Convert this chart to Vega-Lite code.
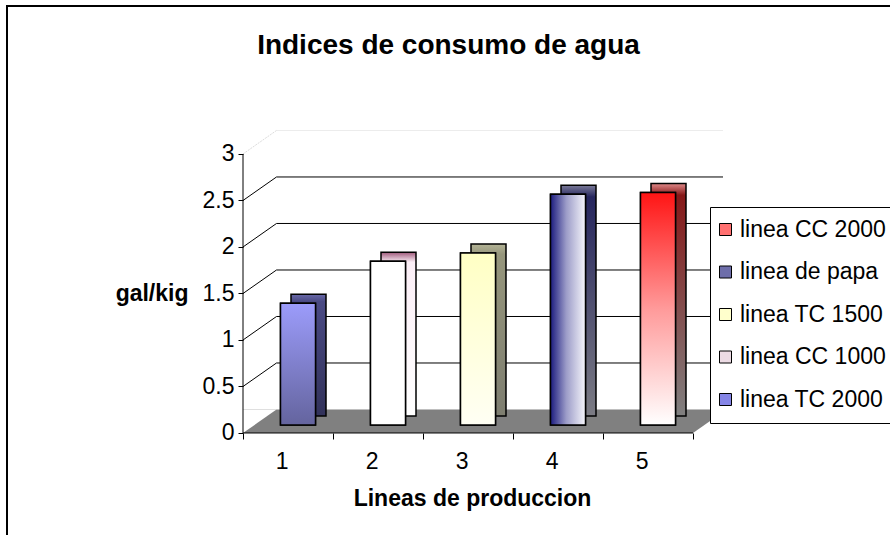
{
  "$schema": "https://vega.github.io/schema/vega-lite/v6.json",
  "autosize": {"type": "none"},
  "width": 887,
  "height": 532,
  "padding": {"left": 7, "top": 6, "right": -4, "bottom": -3},
  "background": "white",
  "config": {"font": "Liberation Sans", "view": {"stroke": "black", "strokeWidth": 2}},
  "title": {"text": "Indices de consumo de agua", "fontSize": 28, "fontWeight": "bold", "color": "black", "anchor": "middle", "frame": "group", "offset": -54, "dx": -2},
  "datasets": {
    "bars": [
      {"linea": "1", "serie": "linea TC 2000", "valor": 1.31},
      {"linea": "2", "serie": "linea CC 1000", "valor": 1.76},
      {"linea": "3", "serie": "linea TC 1500", "valor": 1.85},
      {"linea": "4", "serie": "linea de papa", "valor": 2.48},
      {"linea": "5", "serie": "linea CC 2000", "valor": 2.5}
    ],
    "grid": [{"v": 0.5}, {"v": 1}, {"v": 1.5}, {"v": 2}, {"v": 2.5}],
    "top": [{"v": 3}]
  },
  "layer": [
    {
      "data": {"name": "top"},
      "mark": {"type": "rule", "color": "#ececec", "strokeWidth": 1, "xOffset": 33.5, "x2Offset": 75, "yOffset": -23.5, "y2Offset": -23.5},
      "encoding": {
        "x": {"datum": "1", "type": "nominal", "bandPosition": 0, "scale": {"type": "band", "domain": ["1","2","3","4","5"], "paddingInner": 0, "paddingOuter": 0, "range": [236, 686]}},
        "x2": {"datum": "5"},
        "y": {"field": "v", "type": "quantitative", "scale": {"domain": [-1.129, 4.591], "nice": false, "zero": false}},
        "y2": {"field": "v"}
      }
    },
    {
      "data": {"name": "top"},
      "mark": {"type": "rule", "color": "#dcdcdc", "strokeWidth": 1, "strokeDash": [2, 1], "x2Offset": -11.5, "y2Offset": -23.5},
      "encoding": {
        "x": {"datum": "1", "type": "nominal", "bandPosition": 0, "scale": {"type": "band", "domain": ["1","2","3","4","5"], "paddingInner": 0, "paddingOuter": 0, "range": [236, 686]}},
        "x2": {"datum": "1"},
        "y": {"field": "v", "type": "quantitative", "scale": {"domain": [-1.129, 4.591], "nice": false, "zero": false}},
        "y2": {"field": "v"}
      }
    },
    {
      "data": {"name": "grid"},
      "mark": {"type": "rule", "color": "black", "strokeWidth": 1, "xOffset": 33.5, "x2Offset": 75, "yOffset": -23.5, "y2Offset": -23.5},
      "encoding": {
        "x": {"datum": "1", "type": "nominal", "bandPosition": 0, "scale": {"type": "band", "domain": ["1","2","3","4","5"], "paddingInner": 0, "paddingOuter": 0, "range": [236, 686]}},
        "x2": {"datum": "5"},
        "y": {"field": "v", "type": "quantitative", "scale": {"domain": [-1.129, 4.591], "nice": false, "zero": false}},
        "y2": {"field": "v"}
      }
    },
    {
      "data": {"name": "grid"},
      "mark": {"type": "rule", "color": "black", "strokeWidth": 1, "x2Offset": -11.5, "y2Offset": -23.5},
      "encoding": {
        "x": {"datum": "1", "type": "nominal", "bandPosition": 0, "scale": {"type": "band", "domain": ["1","2","3","4","5"], "paddingInner": 0, "paddingOuter": 0, "range": [236, 686]}},
        "x2": {"datum": "1"},
        "y": {"field": "v", "type": "quantitative", "scale": {"domain": [-1.129, 4.591], "nice": false, "zero": false}},
        "y2": {"field": "v"}
      }
    },
    {
      "data": {"name": "bars"},
      "mark": {"type": "bar", "fill": "#808080", "strokeWidth": 0, "width": {"band": 1}, "y2Offset": -23.5},
      "encoding": {
        "x": {"field": "linea", "type": "nominal", "scale": {"type": "band", "domain": ["1","2","3","4","5"], "paddingInner": 0, "paddingOuter": 0, "range": [236, 686]}},
        "y": {"datum": 0, "type": "quantitative", "scale": {"domain": [-1.129, 4.591], "nice": false, "zero": false}},
        "y2": {"datum": 0}
      }
    },
    {
      "data": {"values": [{}]},
      "mark": {"type": "point", "filled": true, "fill": "white", "opacity": 1, "strokeWidth": 0, "size": 1122.25, "shape": "M-1,-0.7015L1,-0.7015L-1,0.7015Z", "xOffset": 16.75, "yOffset": -11.75},
      "encoding": {
        "x": {"datum": "1", "type": "nominal", "bandPosition": 0, "scale": {"type": "band", "domain": ["1","2","3","4","5"], "paddingInner": 0, "paddingOuter": 0, "range": [236, 686]}},
        "y": {"datum": 0, "type": "quantitative", "scale": {"domain": [-1.129, 4.591], "nice": false, "zero": false}}
      }
    },
    {
      "data": {"values": [{}]},
      "mark": {"type": "point", "filled": true, "fill": "#808080", "opacity": 1, "strokeWidth": 0, "size": 1122.25, "shape": "M-1,-0.7015L1,-0.7015L-1,0.7015Z", "xOffset": 16.75, "yOffset": -11.75},
      "encoding": {
        "x": {"datum": "5", "type": "nominal", "bandPosition": 1, "scale": {"type": "band", "domain": ["1","2","3","4","5"], "paddingInner": 0, "paddingOuter": 0, "range": [236, 686]}},
        "y": {"datum": 0, "type": "quantitative", "scale": {"domain": [-1.129, 4.591], "nice": false, "zero": false}}
      }
    },
    {
      "data": {"values": [{}]},
      "mark": {"type": "rule", "color": "black", "strokeWidth": 1},
      "encoding": {
        "x": {"datum": "1", "type": "nominal", "bandPosition": 0, "scale": {"type": "band", "domain": ["1","2","3","4","5"], "paddingInner": 0, "paddingOuter": 0, "range": [236, 686]}},
        "y": {"datum": 0, "type": "quantitative", "scale": {"domain": [-1.129, 4.591], "nice": false, "zero": false}},
        "y2": {"datum": 3}
      }
    },
    {
      "data": {"values": [{}]},
      "mark": {"type": "rule", "color": "black", "strokeWidth": 1, "x2Offset": 45},
      "encoding": {
        "x": {"datum": "1", "type": "nominal", "bandPosition": 0, "scale": {"type": "band", "domain": ["1","2","3","4","5"], "paddingInner": 0, "paddingOuter": 0, "range": [236, 686]}},
        "x2": {"datum": "5"},
        "y": {"datum": 0, "type": "quantitative", "scale": {"domain": [-1.129, 4.591], "nice": false, "zero": false}}
      }
    },
    {
      "data": {"name": "bars"},
      "transform": [{"filter": "datum.linea == '1'"}],
      "mark": {"type": "bar", "width": 35, "xOffset": 20.5, "yOffset": -17, "y2Offset": -17, "stroke": "black", "strokeWidth": 1.5,
        "fill": {"gradient": "linear", "x1": 0, "y1": 0, "x2": 0, "y2": 1, "stops": [{"offset": 0, "color": "#6a6aaa"}, {"offset": 0.06, "color": "#4a4a84"}, {"offset": 1, "color": "#32325a"}]}},
      "encoding": {
        "x": {"field": "linea", "type": "nominal", "scale": {"type": "band", "domain": ["1","2","3","4","5"], "paddingInner": 0, "paddingOuter": 0, "range": [236, 686]}},
        "y": {"field": "valor", "type": "quantitative", "scale": {"domain": [-1.129, 4.591], "nice": false, "zero": false}},
        "y2": {"datum": 0}
      }
    },
    {
      "data": {"name": "bars"},
      "transform": [{"filter": "datum.linea == '2'"}],
      "mark": {"type": "bar", "width": 35, "xOffset": 20.5, "yOffset": -17, "y2Offset": -17, "stroke": "black", "strokeWidth": 1.5,
        "fill": {"gradient": "linear", "x1": 0, "y1": 0, "x2": 0, "y2": 1, "stops": [{"offset": 0, "color": "#a05a7c"}, {"offset": 0.06, "color": "#fbeef6"}, {"offset": 1, "color": "#ffffff"}]}},
      "encoding": {
        "x": {"field": "linea", "type": "nominal", "scale": {"type": "band", "domain": ["1","2","3","4","5"], "paddingInner": 0, "paddingOuter": 0, "range": [236, 686]}},
        "y": {"field": "valor", "type": "quantitative", "scale": {"domain": [-1.129, 4.591], "nice": false, "zero": false}},
        "y2": {"datum": 0}
      }
    },
    {
      "data": {"name": "bars"},
      "transform": [{"filter": "datum.linea == '3'"}],
      "mark": {"type": "bar", "width": 35, "xOffset": 20.5, "yOffset": -17, "y2Offset": -17, "stroke": "black", "strokeWidth": 1.5,
        "fill": {"gradient": "linear", "x1": 0, "y1": 0, "x2": 0, "y2": 1, "stops": [{"offset": 0, "color": "#b4b496"}, {"offset": 0.06, "color": "#96967c"}, {"offset": 1, "color": "#7e7e70"}]}},
      "encoding": {
        "x": {"field": "linea", "type": "nominal", "scale": {"type": "band", "domain": ["1","2","3","4","5"], "paddingInner": 0, "paddingOuter": 0, "range": [236, 686]}},
        "y": {"field": "valor", "type": "quantitative", "scale": {"domain": [-1.129, 4.591], "nice": false, "zero": false}},
        "y2": {"datum": 0}
      }
    },
    {
      "data": {"name": "bars"},
      "transform": [{"filter": "datum.linea == '4'"}],
      "mark": {"type": "bar", "width": 35, "xOffset": 20.5, "yOffset": -17, "y2Offset": -17, "stroke": "black", "strokeWidth": 1.5,
        "fill": {"gradient": "linear", "x1": 0, "y1": 0, "x2": 0, "y2": 1, "stops": [{"offset": 0, "color": "#7a7a98"}, {"offset": 0.05, "color": "#26265e"}, {"offset": 1, "color": "#7c7c84"}]}},
      "encoding": {
        "x": {"field": "linea", "type": "nominal", "scale": {"type": "band", "domain": ["1","2","3","4","5"], "paddingInner": 0, "paddingOuter": 0, "range": [236, 686]}},
        "y": {"field": "valor", "type": "quantitative", "scale": {"domain": [-1.129, 4.591], "nice": false, "zero": false}},
        "y2": {"datum": 0}
      }
    },
    {
      "data": {"name": "bars"},
      "transform": [{"filter": "datum.linea == '5'"}],
      "mark": {"type": "bar", "width": 35, "xOffset": 20.5, "yOffset": -17, "y2Offset": -17, "stroke": "black", "strokeWidth": 1.5,
        "fill": {"gradient": "linear", "x1": 0, "y1": 0, "x2": 0, "y2": 1, "stops": [{"offset": 0, "color": "#e08a8a"}, {"offset": 0.05, "color": "#861818"}, {"offset": 1, "color": "#808080"}]}},
      "encoding": {
        "x": {"field": "linea", "type": "nominal", "scale": {"type": "band", "domain": ["1","2","3","4","5"], "paddingInner": 0, "paddingOuter": 0, "range": [236, 686]}},
        "y": {"field": "valor", "type": "quantitative", "scale": {"domain": [-1.129, 4.591], "nice": false, "zero": false}},
        "y2": {"datum": 0}
      }
    },
    {
      "data": {"name": "bars"},
      "mark": {"type": "bar", "width": 35, "xOffset": 10, "yOffset": -8, "y2Offset": -8, "stroke": "black", "strokeWidth": 1.5},
      "encoding": {
        "x": {"field": "linea", "type": "nominal",
          "scale": {"type": "band", "domain": ["1","2","3","4","5"], "paddingInner": 0, "paddingOuter": 0, "range": [236, 686]},
          "axis": {"title": "Lineas de produccion", "titleFontSize": 23, "titleFontWeight": "bold", "titleColor": "black", "titleX": 465, "titleY": 72, "titleBaseline": "alphabetic", "titleAlign": "center",
            "labelFontSize": 23, "labelColor": "black", "labelAngle": 0, "labelPadding": 22, "tickBand": "extent", "tickSize": 6, "tickColor": "black", "domain": false, "grid": false, "offset": -105}},
        "y": {"field": "valor", "type": "quantitative",
          "scale": {"domain": [-1.129, 4.591], "nice": false, "zero": false},
          "axis": {"title": "gal/kig", "titleAngle": 0, "titleAlign": "right", "titleBaseline": "alphabetic", "titleX": -55, "titleY": 294, "titleFontSize": 23, "titleFontWeight": "bold", "titleColor": "black",
            "values": [0, 0.5, 1, 1.5, 2, 2.5, 3], "format": "~g", "labelFontSize": 23, "labelColor": "black", "labelPadding": 4, "tickSize": 5, "tickColor": "black", "domain": false, "grid": false, "offset": -236}},
        "y2": {"datum": 0},
        "color": {"field": "serie", "type": "nominal",
          "scale": {"domain": ["linea CC 2000", "linea de papa", "linea TC 1500", "linea CC 1000", "linea TC 2000"], "range": ["#ff7070", "#6e6eaa", "#ffffcc", "#ecdbe4", "#8585e6"]},
          "legend": {"title": null, "orient": "none", "legendX": 703, "legendY": 201, "direction": "vertical", "labelFontSize": 23, "labelColor": "black", "symbolType": "square", "symbolSize": 144, "symbolStrokeColor": "black", "symbolStrokeWidth": 1, "symbolOffset": -7, "rowPadding": 18.5, "padding": 11, "strokeColor": "black", "fillColor": "white", "labelOffset": 3, "labelLimit": 300}}
      }
    },
    {
      "data": {"name": "bars"},
      "transform": [{"filter": "datum.linea == '1'"}],
      "mark": {"type": "bar", "width": 35, "xOffset": 10, "yOffset": -8, "y2Offset": -8, "stroke": "black", "strokeWidth": 1.5,
        "fill": {"gradient": "linear", "x1": 0, "y1": 0, "x2": 0, "y2": 1, "stops": [{"offset": 0, "color": "#9c9cfb"}, {"offset": 1, "color": "#64649e"}]}},
      "encoding": {
        "x": {"field": "linea", "type": "nominal", "scale": {"type": "band", "domain": ["1","2","3","4","5"], "paddingInner": 0, "paddingOuter": 0, "range": [236, 686]}},
        "y": {"field": "valor", "type": "quantitative", "scale": {"domain": [-1.129, 4.591], "nice": false, "zero": false}},
        "y2": {"datum": 0}
      }
    },
    {
      "data": {"name": "bars"},
      "transform": [{"filter": "datum.linea == '2'"}],
      "mark": {"type": "bar", "width": 35, "xOffset": 10, "yOffset": -8, "y2Offset": -8, "stroke": "black", "strokeWidth": 1.5, "fill": "#ffffff"},
      "encoding": {
        "x": {"field": "linea", "type": "nominal", "scale": {"type": "band", "domain": ["1","2","3","4","5"], "paddingInner": 0, "paddingOuter": 0, "range": [236, 686]}},
        "y": {"field": "valor", "type": "quantitative", "scale": {"domain": [-1.129, 4.591], "nice": false, "zero": false}},
        "y2": {"datum": 0}
      }
    },
    {
      "data": {"name": "bars"},
      "transform": [{"filter": "datum.linea == '3'"}],
      "mark": {"type": "bar", "width": 35, "xOffset": 10, "yOffset": -8, "y2Offset": -8, "stroke": "black", "strokeWidth": 1.5,
        "fill": {"gradient": "linear", "x1": 0, "y1": 0, "x2": 0, "y2": 1, "stops": [{"offset": 0, "color": "#ffffc4"}, {"offset": 1, "color": "#fffff4"}]}},
      "encoding": {
        "x": {"field": "linea", "type": "nominal", "scale": {"type": "band", "domain": ["1","2","3","4","5"], "paddingInner": 0, "paddingOuter": 0, "range": [236, 686]}},
        "y": {"field": "valor", "type": "quantitative", "scale": {"domain": [-1.129, 4.591], "nice": false, "zero": false}},
        "y2": {"datum": 0}
      }
    },
    {
      "data": {"name": "bars"},
      "transform": [{"filter": "datum.linea == '4'"}],
      "mark": {"type": "bar", "width": 35, "xOffset": 10, "yOffset": -8, "y2Offset": -8, "stroke": "black", "strokeWidth": 1.5,
        "fill": {"gradient": "linear", "x1": 0, "y1": 0, "x2": 1, "y2": 0, "stops": [{"offset": 0, "color": "#1c1c80"}, {"offset": 0.45, "color": "#9c9cc8"}, {"offset": 1, "color": "#f6f6fb"}]}},
      "encoding": {
        "x": {"field": "linea", "type": "nominal", "scale": {"type": "band", "domain": ["1","2","3","4","5"], "paddingInner": 0, "paddingOuter": 0, "range": [236, 686]}},
        "y": {"field": "valor", "type": "quantitative", "scale": {"domain": [-1.129, 4.591], "nice": false, "zero": false}},
        "y2": {"datum": 0}
      }
    },
    {
      "data": {"name": "bars"},
      "transform": [{"filter": "datum.linea == '5'"}],
      "mark": {"type": "bar", "width": 35, "xOffset": 10, "yOffset": -8, "y2Offset": -8, "stroke": "black", "strokeWidth": 1.5,
        "fill": {"gradient": "linear", "x1": 0, "y1": 0, "x2": 0, "y2": 1, "stops": [{"offset": 0, "color": "#ff1414"}, {"offset": 0.5, "color": "#ff9a9a"}, {"offset": 1, "color": "#ffffff"}]}},
      "encoding": {
        "x": {"field": "linea", "type": "nominal", "scale": {"type": "band", "domain": ["1","2","3","4","5"], "paddingInner": 0, "paddingOuter": 0, "range": [236, 686]}},
        "y": {"field": "valor", "type": "quantitative", "scale": {"domain": [-1.129, 4.591], "nice": false, "zero": false}},
        "y2": {"datum": 0}
      }
    }
  ]
}
